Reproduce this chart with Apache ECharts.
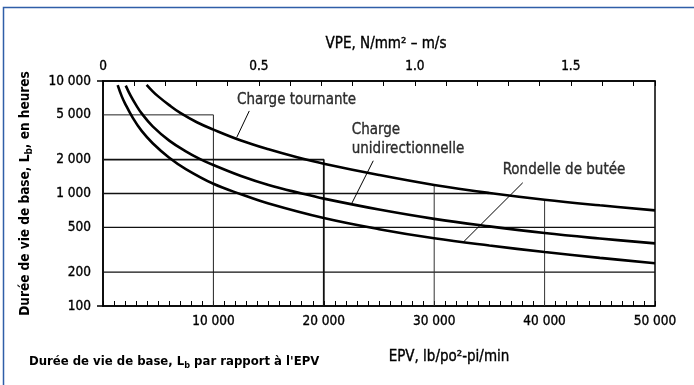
<!DOCTYPE html>
<html>
<head>
<meta charset="utf-8">
<script src="https://cdn.jsdelivr.net/npm/echarts@6/dist/echarts.min.js"></script>
<style>
  html, body { margin: 0; padding: 0; background: #fff; }
  #chart { width: 694px; height: 385px; }
</style>
</head>
<body>
<div id="chart"></div>
<script>
// Basic life L_b (hours) against the PV factor, EPV (lb/in²·ft/min) below, VPE (N/mm²·m/s) above

// Tick labels
const epvTicks = [10000, 20000, 30000, 40000, 50000];
const vpeTicks = [0, 0.5, 1.0, 1.5];
const lifeTicks = [100, 200, 500, 1000, 2000, 5000, 10000];

// Curves: [EPV, life in hours]
const rotatingLoad = [
  [3950, 9250], [4500, 8100], [5000, 7300], [6000, 6100], [7000, 5200],
  [8500, 4300], [10000, 3700], [12500, 2960], [15000, 2470], [17500, 2110],
  [20000, 1840], [25000, 1460], [30000, 1190], [35000, 1010], [40000, 880],
  [45000, 785], [50000, 708]
];
const unidirectionalLoad = [
  [2060, 9100], [2500, 7400], [3000, 6100], [3500, 5150], [4500, 3950],
  [6000, 2950], [7500, 2370], [8800, 2020], [10000, 1790], [12500, 1430],
  [15000, 1190], [18000, 1000], [20000, 900], [25000, 720], [30000, 595],
  [35000, 510], [40000, 445], [45000, 398], [50000, 360]
];
const thrustWasher = [
  [1330, 9200], [1700, 7300], [2000, 6300], [2700, 4700], [3500, 3600],
  [4500, 2800], [6000, 2080], [7500, 1650], [10000, 1220], [12500, 985],
  [15000, 815], [20000, 605], [25000, 482], [30000, 400], [35000, 345],
  [40000, 302], [45000, 268], [50000, 240]
];

// Reference lines: [EPV, life]
const guide5000 = [[0, 5000], [10000, 5000], [10000, 100]];
const guide2000 = [[0, 2000], [20000, 2000], [20000, 100]];
const guide1000 = [[0, 1000], [35300, 1000]];
const guide500 = [[0, 500], [50000, 500]];
const guide200 = [[0, 200], [50000, 200]];
const guide30000 = [[30000, 1190], [30000, 100]];
const guide40000 = [[40000, 880], [40000, 100]];

// Curve names and their callouts: label anchor, leader line
const curveNames = ['Charge tournante', 'Charge\nunidirectionnelle', 'Rondelle de butée'];
const labelAnchors = [[12140, 6750], [22530, 3040], [36200, 1600]];
const leaders = [
  [[13250, 5420], [12110, 3150]],
  [[24480, 1955], [22530, 815]],
  [[38020, 1246], [32700, 375]]
];

const TXT_FONT = "'DejaVu Sans Condensed', 'DejaVu Sans', sans-serif";
const fmt = v => String(Math.round(v)).replace(/\B(?=(\d{3})+(?!\d))/g, ' ');
const near = (a, b) => Math.abs(a - b) < 1e-6;

// slightly heavier strokes for the regular-weight texts
const ink = { color: '#000', textBorderColor: '#000', textBorderWidth: 0.35 };

const chart = echarts.init(document.getElementById('chart'), null, { renderer: 'canvas' });

const curve = (name, data) => ({
  name, type: 'line', data, xAxisIndex: 0, yAxisIndex: 0,
  showSymbol: false, smooth: 0.4, z: 5, silent: true,
  lineStyle: { color: '#000', width: 2.6 }
});
const guide = (data, width, color) => ({
  type: 'line', data, xAxisIndex: 0, yAxisIndex: 0,
  showSymbol: false, smooth: false, z: 2, silent: true,
  lineStyle: { color: color || '#111', width: width }
});

const series = [
  guide(guide5000, 1, '#222'),
  guide(guide2000, 1.8, '#111'),
  guide(guide1000, 1.5, '#111'),
  guide(guide500, 1.4, '#111'),
  guide(guide200, 1.4, '#111'),
  guide(guide30000, 1, '#333'),
  guide(guide40000, 1, '#333'),
  curve(curveNames[0], rotatingLoad),
  curve(curveNames[1], unidirectionalLoad),
  curve(curveNames[2], thrustWasher)
];
leaders.forEach(l => series.push(guide(l, 1, '#000')));
series.push({
  type: 'scatter', xAxisIndex: 0, yAxisIndex: 0, symbolSize: 0, silent: true, z: 6,
  data: labelAnchors.map((p, i) => ({ value: p, name: curveNames[i] })),
  label: Object.assign({
    show: true, position: 'right', distance: 0,
    formatter: p => p.name,
    fontFamily: TXT_FONT, fontSize: 15, lineHeight: 19, align: 'left'
  }, ink)
});

const numLabel = Object.assign({ fontFamily: TXT_FONT, fontSize: 13.5 }, ink);
const boldRich = size => ({
  b: { fontFamily: TXT_FONT, fontWeight: 'bold', fontSize: size, color: '#000', lineHeight: 17 },
  s: { fontFamily: TXT_FONT, fontWeight: 'bold', fontSize: Math.round(size * 0.72), color: '#000', lineHeight: 9, verticalAlign: 'bottom' }
});

chart.setOption({
  animation: false,
  backgroundColor: '#fff',
  title: {
    text: '{b|Durée de vie de base, L}{s|b}{b| par rapport à l\'EPV}',
    left: 24, top: 348,
    textStyle: { rich: boldRich(13) }
  },
  graphic: [{
    type: 'rect', left: 1, top: 5, silent: true,
    shape: { width: 740, height: 440 },
    style: { fill: 'none', stroke: '#2f5ea8', lineWidth: 1.5 }
  }],
  grid: {
    left: 103, right: 39, top: 81, bottom: 79,
    show: true, borderColor: '#000', borderWidth: 1.5, backgroundColor: 'transparent'
  },
  xAxis: [{
    type: 'value', position: 'bottom', min: 0, max: 50000, interval: 10000,
    axisLine: { show: true, lineStyle: { color: '#000', width: 1.5 } },
    axisTick: { show: true, inside: true, length: 5, lineStyle: { color: '#000' } },
    minorTick: { show: true, splitNumber: 10, length: 5, lineStyle: { color: '#000', width: 1 } },
    splitLine: { show: false },
    axisLabel: Object.assign({
      formatter: v => epvTicks.some(t => near(t, v)) ? fmt(v) : '',
      margin: 8
    }, numLabel),
    name: 'EPV, lb/po²-pi/min', nameLocation: 'middle', nameGap: 44,
    nameTextStyle: Object.assign({ fontFamily: TXT_FONT, fontSize: 15, padding: [0, 0, 0, 140] }, ink)
  }, {
    type: 'value', position: 'top', min: 0, max: 1.77, interval: 0.1,
    axisLine: { show: true, lineStyle: { color: '#000', width: 1.5 } },
    axisTick: { show: true, inside: true, length: 5, lineStyle: { color: '#000' } },
    splitLine: { show: false },
    axisLabel: Object.assign({
      formatter: v => {
        const t = vpeTicks.find(t => near(t, v));
        if (t === undefined) return '';
        return t === 0 ? '0' : t.toFixed(1);
      },
      margin: 8
    }, numLabel),
    name: 'VPE, N/mm² – m/s', nameLocation: 'middle', nameGap: 29,
    nameTextStyle: Object.assign({ fontFamily: TXT_FONT, fontSize: 15, padding: [0, 0, 0, 14] }, ink)
  }],
  yAxis: [{
    type: 'log', logBase: 10, min: 100, max: 10000,
    axisLine: { show: true, lineStyle: { color: '#000', width: 1.5 } },
    axisTick: { show: true, length: 6, customValues: [100, 10000], lineStyle: { color: '#000', width: 1.5 } },
    minorTick: { show: false },
    splitLine: { show: false },
    axisLabel: Object.assign({
      customValues: lifeTicks, formatter: v => fmt(v), margin: 12
    }, numLabel),
    name: '{b|Durée de vie de base, L}{s|b}{b|, en heures}',
    nameLocation: 'middle', nameGap: 69, nameRotate: 90,
    nameTextStyle: { rich: boldRich(13.5) }
  }],
  series
});
</script>
</body>
</html>
